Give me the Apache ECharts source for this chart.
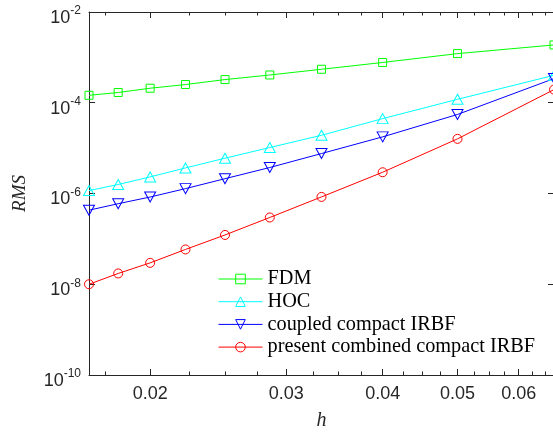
<!DOCTYPE html>
<html>
<head>
<meta charset="utf-8">
<script src="https://cdn.jsdelivr.net/npm/echarts@6/dist/echarts.min.js"></script>
<style>
  html, body { margin: 0; padding: 0; background: #fff; }
  #chart { width: 553px; height: 435px; }
</style>
</head>
<body>
<div id="chart"></div>
<script>
// Grid spacing h and RMS error of each scheme
const hValues = [1/60, 1/55, 1/50, 1/45, 1/40, 1/35, 1/30, 1/25, 1/20, 1/15];
const rmsFDM = [1.46e-4, 1.68e-4, 2.09e-4, 2.52e-4, 3.24e-4, 4.09e-4, 5.47e-4, 7.72e-4, 1.21e-3, 1.88e-3];
const rmsHOC = [1.16e-6, 1.58e-6, 2.32e-6, 3.66e-6, 6.0e-6, 1.03e-5, 1.92e-5, 4.47e-5, 1.19e-4, 4.03e-4];
const rmsCoupled = [4.29e-7, 5.96e-7, 8.37e-7, 1.28e-6, 2.12e-6, 3.74e-6, 7.60e-6, 1.77e-5, 5.52e-5, 3.41e-4];
const rmsCombined = [1.0e-8, 1.73e-8, 2.96e-8, 5.85e-8, 1.22e-7, 2.96e-7, 8.41e-7, 2.94e-6, 1.60e-5, 1.95e-4];

const seriesNames = ['FDM', 'HOC', 'coupled compact IRBF', 'present combined compact IRBF'];

// Axis ticks
const xMajorTicks = [0.02, 0.03, 0.04, 0.05, 0.06];
const xMinorTicks = [0.0175, 0.0225, 0.025, 0.0275, 0.0325, 0.035, 0.0375, 0.0425, 0.045, 0.0475,
                     0.0525, 0.055, 0.0575, 0.0625, 0.065];
const yMajorTicks = [1e-10, 1e-8, 1e-6, 1e-4, 1e-2];

const axisColor = '#262626';
const sansFont = 'Liberation Sans';
const serifFont = 'Liberation Serif';

function pairs(ys) {
  return hValues.map((h, i) => [h, ys[i]]);
}

function xAxisDef(position, ticks, tickLen, withLine, withLabels) {
  return {
    type: 'log',
    logBase: 10,
    position: position,
    min: hValues[0],
    max: hValues[hValues.length - 1],
    axisLine: { show: withLine, lineStyle: { color: axisColor, width: 1 } },
    axisTick: { show: true, inside: true, length: tickLen, customValues: ticks,
                lineStyle: { color: axisColor, width: 1 } },
    axisLabel: withLabels ? {
      show: true, customValues: ticks, margin: 10,
      color: axisColor, fontFamily: sansFont, fontSize: 18,
      formatter: v => (+v).toFixed(2)
    } : { show: false },
    splitLine: { show: false },
    minorTick: { show: false },
    minorSplitLine: { show: false }
  };
}

function yAxisDef(position, withLabels) {
  return {
    type: 'log',
    logBase: 10,
    position: position,
    min: yMajorTicks[0],
    max: yMajorTicks[yMajorTicks.length - 1],
    axisLine: { show: true, lineStyle: { color: axisColor, width: 1 } },
    axisTick: { show: true, inside: true, length: 6, customValues: yMajorTicks,
                lineStyle: { color: axisColor, width: 1 } },
    axisLabel: withLabels ? {
      show: true, customValues: yMajorTicks, margin: 8,
      padding: [8, 0, 0, 0],
      formatter: v => '{b|10}{s|' + Math.round(Math.log10(v)) + '}',
      rich: {
        b: { fontFamily: sansFont, fontSize: 18, color: axisColor, verticalAlign: 'bottom', lineHeight: 22 },
        s: { fontFamily: sansFont, fontSize: 12, color: axisColor, verticalAlign: 'top', lineHeight: 22 }
      }
    } : { show: false },
    splitLine: { show: false },
    minorTick: { show: false },
    minorSplitLine: { show: false }
  };
}

const xAxes = [
  Object.assign(xAxisDef('bottom', xMajorTicks, 6, true, true), {
    name: 'h', nameLocation: 'middle', nameGap: 36,
    nameTextStyle: { fontFamily: serifFont, fontStyle: 'italic', fontSize: 20, color: axisColor }
  }),
  xAxisDef('bottom', xMinorTicks, 3.5, false, false),
  xAxisDef('top', xMajorTicks, 6, true, false),
  xAxisDef('top', xMinorTicks, 3.5, false, false)
];

const yAxes = [
  Object.assign(yAxisDef('left', true), {
    name: 'RMS', nameLocation: 'middle', nameGap: 60, nameRotate: 90,
    nameTextStyle: { fontFamily: serifFont, fontStyle: 'italic', fontSize: 19, color: axisColor }
  }),
  yAxisDef('right', false)
];

function lineSeries(name, ys, color, symbol, size, rotate) {
  return {
    name: name,
    type: 'line',
    xAxisIndex: 0,
    yAxisIndex: 0,
    data: pairs(ys),
    symbol: symbol,
    symbolSize: size,
    symbolRotate: rotate || 0,
    showAllSymbol: true,
    lineStyle: { color: color, width: 1 },
    itemStyle: { color: 'rgba(0,0,0,0)', borderColor: color, borderWidth: 1 },
    emphasis: { disabled: true },
    z: 3
  };
}

const chart = echarts.init(document.getElementById('chart'), null, { renderer: 'canvas' });
chart.setOption({
  animation: false,
  backgroundColor: '#ffffff',
  grid: { left: 89, right: -1, top: 12, bottom: 60, containLabel: false, outerBoundsMode: 'none' },
  xAxis: xAxes,
  yAxis: yAxes,
  legend: {
    orient: 'vertical',
    left: 218,
    top: 269,
    padding: 0,
    itemWidth: 44,
    itemHeight: 12,
    itemGap: 2.7,
    selectedMode: false,
    textStyle: { fontFamily: serifFont, fontSize: 20.3, color: '#000' },
    itemStyle: { borderWidth: 1 },
    lineStyle: { width: 1 },
    data: seriesNames
  },
  series: [
    lineSeries(seriesNames[0], rmsFDM, '#00ff00', 'rect', 8),
    lineSeries(seriesNames[1], rmsHOC, '#00ffff', 'triangle', [11, 10]),
    lineSeries(seriesNames[2], rmsCoupled, '#0000ff', 'triangle', [11, 10], 180),
    lineSeries(seriesNames[3], rmsCombined, '#ff0000', 'circle', 9)
  ]
});
</script>
</body>
</html>
